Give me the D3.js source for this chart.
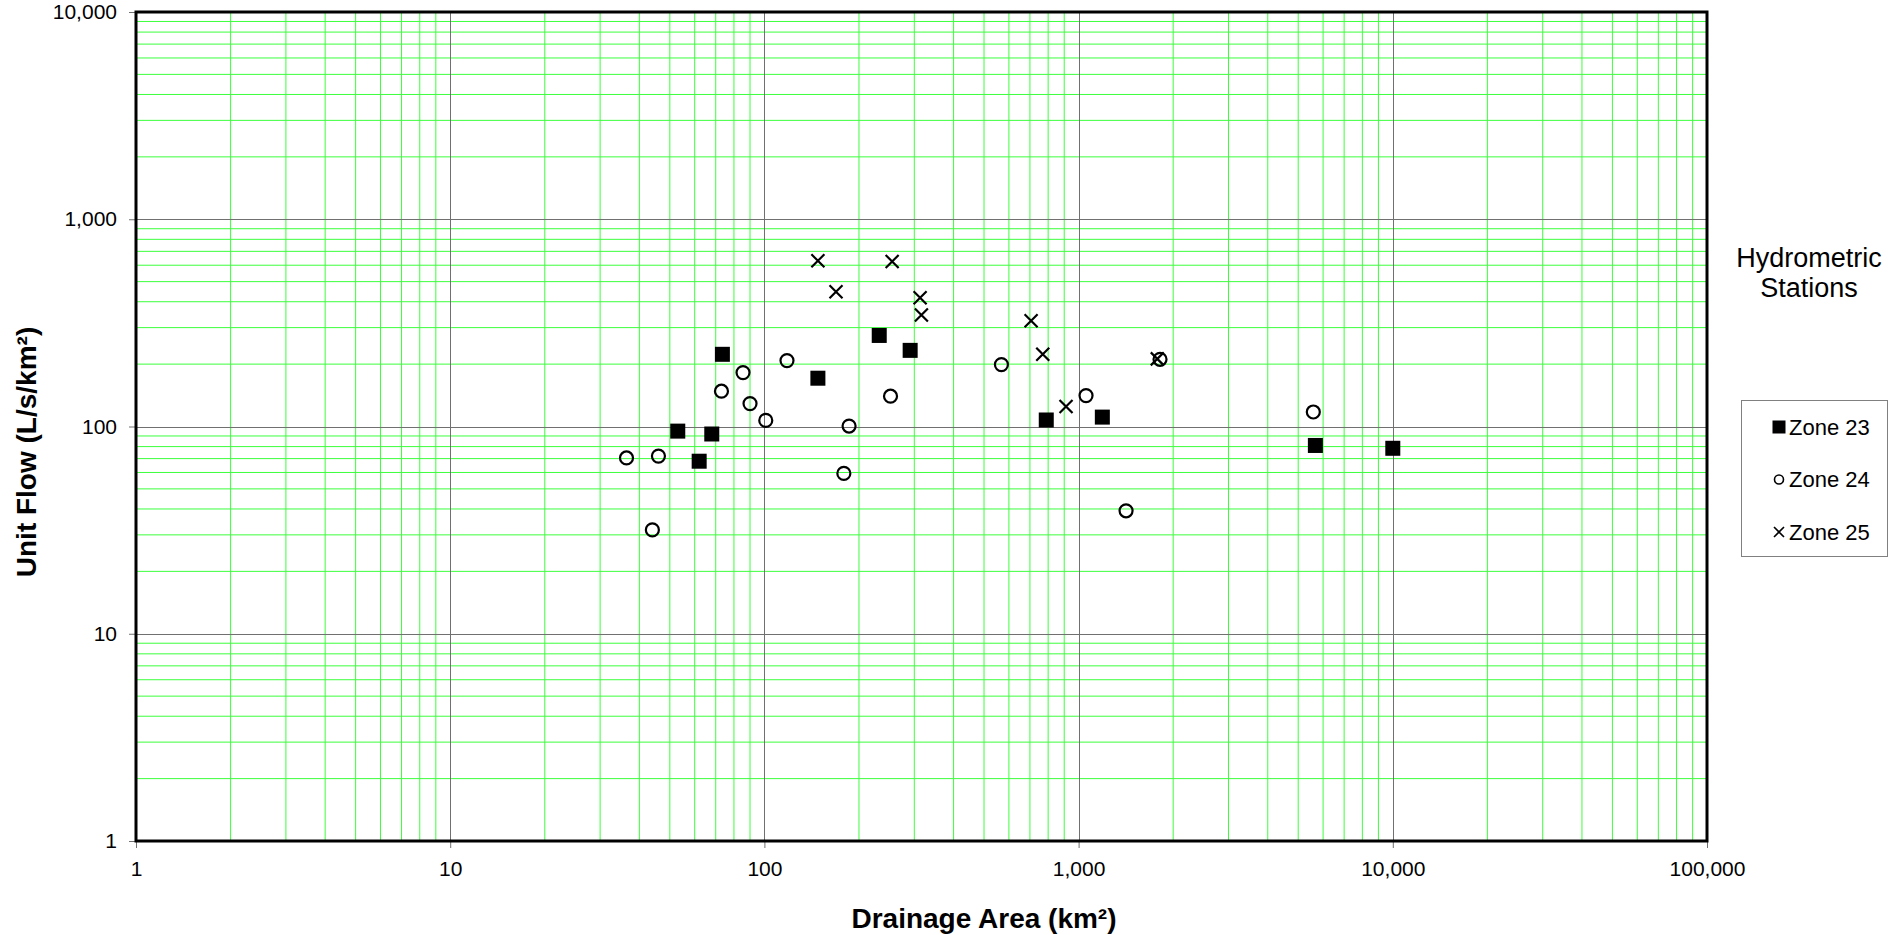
<!DOCTYPE html>
<html>
<head>
<meta charset="utf-8">
<script src="https://cdn.jsdelivr.net/npm/d3@7"></script>
<style>
  html, body { margin: 0; padding: 0; background: #fff; }
  svg { display: block; font-family: "Liberation Sans", Arial, sans-serif; }
</style>
</head>
<body>
<svg id="chart" width="1888" height="935"></svg>
<script>
// Hydrometric stations: drainage area (km²) against unit flow (L/s/km²)
const zone23Area = [53, 62, 68, 73.5, 148, 232, 291, 789, 1190, 5670, 10000];
const zone23Flow = [95, 68, 92, 223, 171, 275, 233, 107.5, 111, 81, 78.5];

const zone24Area = [36.4, 44, 46, 73, 85.5, 90, 101, 118, 179, 186, 252, 568, 1056, 1416, 1816, 5585];
const zone24Flow = [70.5, 31.7, 72, 148, 182, 129, 107, 208, 59.4, 100.5, 140, 199, 141, 39.2, 211, 117.5];

const zone25Area = [148, 169, 255, 313, 316, 706, 769, 912, 1780];
const zone25Flow = [630, 447, 625, 418, 345, 324, 223, 125, 212];

const seriesNames = ["Zone 23", "Zone 24", "Zone 25"];
const xTickValues = [1, 10, 100, 1000, 10000, 100000];
const yTickValues = [1, 10, 100, 1000, 10000];

const xTitle = "Drainage Area (km²)";
const yTitle = "Unit Flow (L/s/km²)";
const legendTitle = ["Hydrometric", "Stations"];

const svg = d3.select("#chart");

const plot = { left: 136, right: 1707, top: 12, bottom: 841 };
const x = d3.scaleLog().domain([1, 100000]).range([plot.left, plot.right]);
const y = d3.scaleLog().domain([1, 10000]).range([plot.bottom, plot.top]);

const isDecade = v => Math.abs(Math.log10(v) - Math.round(Math.log10(v))) < 1e-9;
const crisp = v => Math.round(v) + 0.5;

// Minor grid (2..9 within each decade)
const minorColor = "rgb(60,255,60)";
const grid = svg.append("g");
grid.selectAll("line.minor-x")
  .data(x.ticks().filter(v => !isDecade(v)))
  .join("line")
  .attr("class", "minor-x")
  .attr("x1", d => x(d)).attr("x2", d => x(d))
  .attr("y1", plot.top).attr("y2", plot.bottom)
  .attr("stroke", minorColor).attr("stroke-width", 1);
grid.selectAll("line.minor-y")
  .data(y.ticks().filter(v => !isDecade(v)))
  .join("line")
  .attr("class", "minor-y")
  .attr("x1", plot.left).attr("x2", plot.right)
  .attr("y1", d => y(d)).attr("y2", d => y(d))
  .attr("stroke", minorColor).attr("stroke-width", 1);

// Major grid (decades)
grid.selectAll("line.major-x")
  .data(xTickValues)
  .join("line")
  .attr("class", "major-x")
  .attr("x1", d => crisp(x(d))).attr("x2", d => crisp(x(d)))
  .attr("y1", plot.top).attr("y2", plot.bottom)
  .attr("stroke", "#707070").attr("stroke-width", 1);
grid.selectAll("line.major-y")
  .data(yTickValues)
  .join("line")
  .attr("class", "major-y")
  .attr("x1", plot.left).attr("x2", plot.right)
  .attr("y1", d => crisp(y(d))).attr("y2", d => crisp(y(d)))
  .attr("stroke", "#707070").attr("stroke-width", 1);

// Axes
const yAxis = d3.axisLeft(y)
  .tickValues(yTickValues)
  .tickFormat(d3.format(","))
  .tickSize(7)
  .tickPadding(12);
const gy = svg.append("g")
  .attr("transform", `translate(${plot.left},0)`)
  .call(yAxis);

const xAxis = d3.axisBottom(x)
  .tickValues(xTickValues)
  .tickFormat(d3.format(","))
  .tickSize(7)
  .tickPadding(13);
const gx = svg.append("g")
  .attr("transform", `translate(0,${plot.bottom})`)
  .call(xAxis);

[gx, gy].forEach(g => {
  g.select(".domain").remove();
  g.selectAll(".tick line").attr("stroke", "#707070");
  g.selectAll(".tick text")
    .attr("fill", "#000")
    .style("font-size", "21px")
    .style("font-family", '"Liberation Sans", Arial, sans-serif');
});

// Plot frame
svg.append("rect")
  .attr("x", plot.left).attr("y", plot.top)
  .attr("width", plot.right - plot.left)
  .attr("height", plot.bottom - plot.top)
  .attr("fill", "none")
  .attr("stroke", "#000")
  .attr("stroke-width", 3);

// Marker shapes
function drawSquare(g, cx, cy, s) {
  g.append("rect")
    .attr("x", cx - s / 2).attr("y", cy - s / 2)
    .attr("width", s).attr("height", s)
    .attr("fill", "#000");
}
function drawCircle(g, cx, cy, r, sw) {
  g.append("circle")
    .attr("cx", cx).attr("cy", cy).attr("r", r)
    .attr("fill", "none").attr("stroke", "#000").attr("stroke-width", sw);
}
function drawCross(g, cx, cy, h, sw) {
  g.append("path")
    .attr("d", `M${cx - h},${cy - h}L${cx + h},${cy + h}M${cx - h},${cy + h}L${cx + h},${cy - h}`)
    .attr("fill", "none").attr("stroke", "#000").attr("stroke-width", sw);
}

const marks = svg.append("g");
zone23Area.forEach((a, i) => drawSquare(marks, x(a), y(zone23Flow[i]), 15));
zone24Area.forEach((a, i) => drawCircle(marks, x(a), y(zone24Flow[i]), 6.5, 2.2));
zone25Area.forEach((a, i) => drawCross(marks, x(a), y(zone25Flow[i]), 6.5, 2.2));

// Axis titles
svg.append("text")
  .attr("x", 984).attr("y", 928)
  .attr("text-anchor", "middle")
  .style("font-size", "28px").style("font-weight", "bold")
  .text(xTitle);

svg.append("text")
  .attr("transform", "translate(36,452) rotate(-90)")
  .attr("text-anchor", "middle")
  .style("font-size", "28px").style("font-weight", "bold")
  .text(yTitle);

// Legend
const legend = svg.append("g");
legend.append("text")
  .attr("text-anchor", "middle")
  .style("font-size", "27px")
  .selectAll("tspan")
  .data(legendTitle)
  .join("tspan")
  .attr("x", 1809)
  .attr("y", (d, i) => 266.5 + i * 30.5)
  .text(d => d);

legend.append("rect")
  .attr("x", 1741.5).attr("y", 400.5)
  .attr("width", 146).attr("height", 156)
  .attr("fill", "#fff")
  .attr("stroke", "#808080").attr("stroke-width", 1);

seriesNames.forEach((name, i) => {
  const cy = 427 + i * 52.5;
  const mx = 1779;
  if (i === 0) drawSquare(legend, mx, cy, 13);
  else if (i === 1) drawCircle(legend, mx, cy, 4.5, 1.6);
  else drawCross(legend, mx, cy, 5, 1.6);
  legend.append("text")
    .attr("x", 1789).attr("y", cy + 7.5)
    .style("font-size", "22px")
    .text(name);
});
</script>
</body>
</html>
